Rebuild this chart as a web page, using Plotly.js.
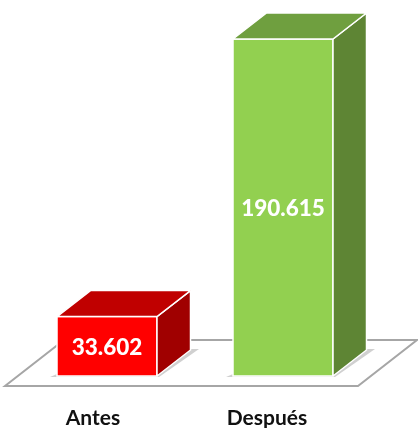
<!DOCTYPE html>
<html><head><meta charset="utf-8">
<script src="https://cdn.plot.ly/plotly-3.0.1.min.js"></script>
<style>html,body{margin:0;padding:0;background:#fff}#c{width:418px;height:428px;filter:blur(0.45px)}</style>
</head><body><div id="c"></div>
<script>
const categories = ["Antes", "Después"];
const values = [33602, 190615];
const valueLabels = ["33.602", "190.615"];
const frontColors = ["#ff0000", "#92d050"];
const topColors = ["#c00000", "#6f9f3f"];
const sideColors = ["#a00000", "#5e8534"];
const barCenters = [107, 283];
const labelCenters = [93, 267];

const W = 418, H = 428, marginB = 25, plotH = H - marginB;
const baseRow = 376;                 // pixel row of value 0
const unitsPerPx = 190615 / 337;
const u = px => px * unitsPerPx;     // pixel distance -> y units
const barW = 100, depthX = 33.5, depthY = u(26);

const faces = [];
categories.forEach((c, i) => {
  const l = barCenters[i] - barW / 2, r = barCenters[i] + barW / 2, v = values[i];
  faces.push({type:'scatter', mode:'lines', fill:'toself', fillcolor:sideColors[i],
    line:{color:'#ffffff', width:1.5}, hoverinfo:'skip', showlegend:false,
    x:[r, r + depthX, r + depthX, r, r], y:[0, depthY, v + depthY, v, 0]});
  faces.push({type:'scatter', mode:'lines', fill:'toself', fillcolor:topColors[i],
    line:{color:'#ffffff', width:1.5}, hoverinfo:'skip', showlegend:false,
    x:[l, l + depthX, r + depthX, r, l], y:[v, v + depthY, v + depthY, v, v]});
});

const bars = {type:'bar', x:barCenters, y:values, width:barW, text:valueLabels,
  textposition:'inside', insidetextanchor:'middle', textangle:0, constraintext:'none',
  textfont:{family:'Lato, sans-serif', size:22.5, color:'#ffffff', weight:900},
  marker:{color:frontColors, line:{color:'#ffffff', width:1.5}},
  hoverinfo:'skip', showlegend:false};

const poly = pts => 'M' + pts.map(p => p[0] + ',' + p[1]).join('L') + 'Z';
const shapes = [
  {type:'path', layer:'below', xref:'x', yref:'y', fillcolor:'#ffffff',
   line:{color:'#a6a6a6', width:2},
   path:poly([[5,-u(10)],[358,-u(10)],[417,u(36)],[64,u(36)]])}
];
barCenters.forEach(cx => {
  const l = cx - barW / 2, r = cx + barW / 2;
  shapes.push({type:'path', layer:'below', xref:'x', yref:'y', fillcolor:'#d0d0d0',
    line:{width:0},
    path:poly([[l-7,-u(1)],[r+2,-u(1)],[r+42,u(27)],[r+30,u(27)],[l,u(2)]])});
});

Plotly.newPlot('c', [bars].concat(faces), {
  width:W, height:H, margin:{l:0, r:0, t:0, b:marginB},
  paper_bgcolor:'#ffffff', plot_bgcolor:'rgba(0,0,0,0)', showlegend:false, shapes,
  xaxis:{range:[0, W], tickmode:'array', tickvals:labelCenters, ticktext:categories,
    showgrid:false, zeroline:false, showline:false, ticks:'',
    tickfont:{family:'Lato, sans-serif', size:21, color:'#111111', weight:700}},
  yaxis:{range:[-u(plotH - baseRow), u(baseRow)], visible:false, showgrid:false, zeroline:false}
}, {displayModeBar:false, staticPlot:true});
</script></body></html>
